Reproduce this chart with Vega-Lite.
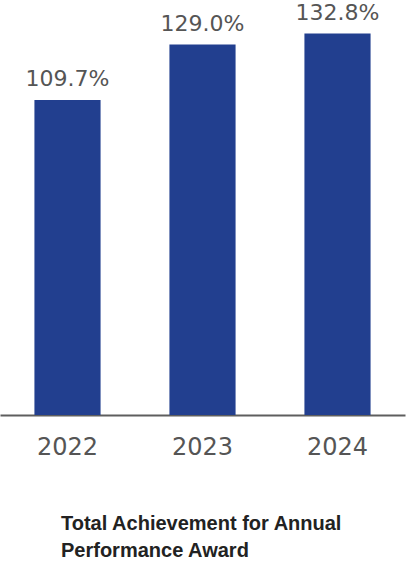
{
  "$schema": "https://vega.github.io/schema/vega-lite/v6.json",
  "width": 405,
  "height": 415,
  "padding": {"left": 0, "top": 0, "right": 1, "bottom": 0},
  "background": "white",
  "data": {
    "values": [
      {"year": "2022", "pct": 109.7},
      {"year": "2023", "pct": 129.0},
      {"year": "2024", "pct": 132.8}
    ]
  },
  "transform": [
    {"calculate": "format(datum.pct, '.1f') + '%'", "as": "label"}
  ],
  "title": {
    "text": ["Total Achievement for Annual", "Performance Award"],
    "orient": "bottom",
    "anchor": "start",
    "frame": "bounds",
    "dx": 61,
    "offset": 71,
    "font": "Liberation Sans",
    "fontSize": 20,
    "fontWeight": "bold",
    "color": "#222222",
    "lineHeight": 27,
    "baseline": "alphabetic"
  },
  "config": {
    "view": {"stroke": null}
  },
  "encoding": {
    "x": {
      "field": "year",
      "type": "ordinal",
      "scale": {"paddingInner": 0.51, "paddingOuter": 0.255},
      "axis": {
        "title": null,
        "labelAngle": 0,
        "ticks": false,
        "tickSize": 0,
        "domainColor": "#5e5e5e",
        "domainWidth": 2,
        "labelFont": "DejaVu Sans",
        "labelFontSize": 24,
        "labelColor": "#555555",
        "labelBaseline": "alphabetic",
        "labelPadding": 39,
        "grid": false
      }
    },
    "y": {
      "field": "pct",
      "type": "quantitative",
      "scale": {"domain": [0, 144.5], "nice": false},
      "axis": null
    }
  },
  "layer": [
    {
      "mark": {"type": "bar", "color": "#223f8f"}
    },
    {
      "mark": {
        "type": "text",
        "baseline": "alphabetic",
        "dy": -14,
        "font": "DejaVu Sans",
        "fontSize": 22,
        "color": "#555555"
      },
      "encoding": {"text": {"field": "label"}}
    }
  ]
}
